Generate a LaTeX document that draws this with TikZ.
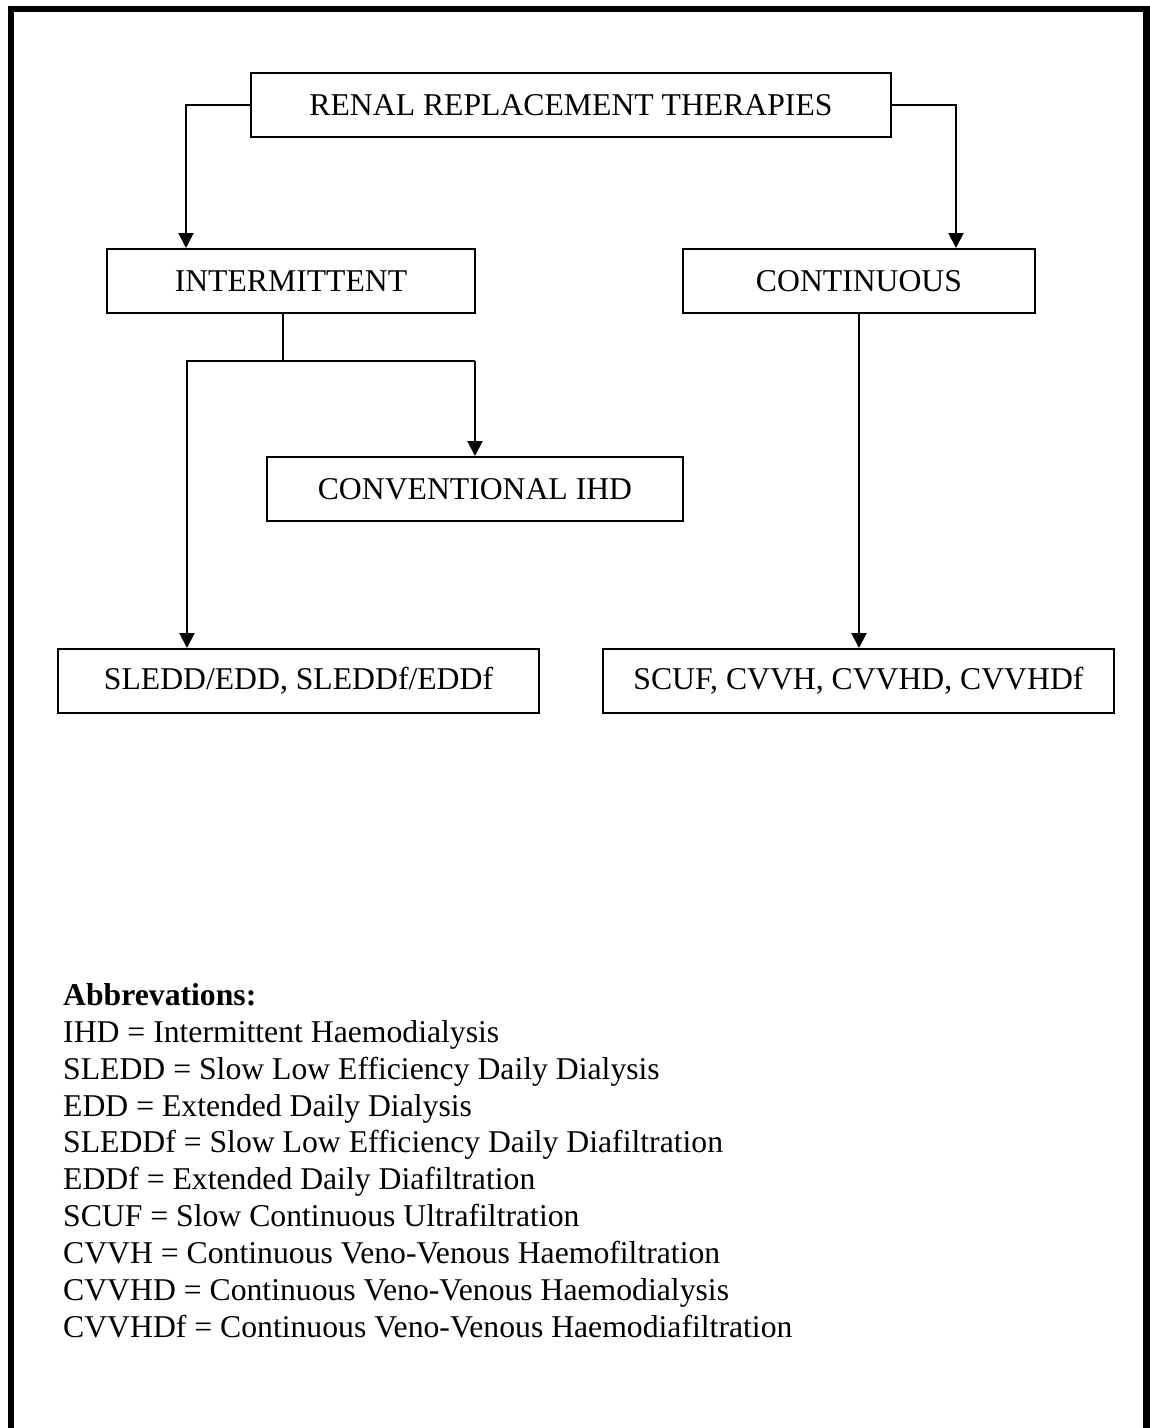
\documentclass[tikz,border=0pt]{standalone}
\usepackage{fontspec}
\setmainfont{Liberation Serif}
\usetikzlibrary{arrows.meta}
\tikzset{
  box/.style={draw, line width=2pt, minimum height=64pt, inner sep=0pt, font=\fontsize{31.7}{36.5}\selectfont},
  conn/.style={line width=2pt, line join=miter},
  arr/.style={conn, -{Triangle[length=15pt,width=15pt]}},
  abbr/.style={anchor=base west, inner sep=0pt, font=\fontsize{31.7}{36.5}\selectfont},
}
\begin{document}
\begin{tikzpicture}[x=1pt,y=-1pt]
\useasboundingbox (0,0) rectangle (1150,1428);
\fill[white] (0,0) rectangle (1150,1428);
\draw[line width=6.5pt, line join=miter] (11,1428) -- (11,9) -- (1146.5,9) -- (1146.5,1428);

\node[box, minimum width=640pt] (rrt) at (571,105) {RENAL REPLACEMENT THERAPIES};
\node[box, minimum width=368pt] (int) at (291,281) {INTERMITTENT};
\node[box, minimum width=352pt] (cont) at (859,281) {CONTINUOUS};
\node[box, minimum width=416pt] (conv) at (475,489) {CONVENTIONAL IHD};
\node[box, minimum width=481pt] (sledd) at (298.5,681) {SLEDD/EDD, SLEDDf/EDDf};
\node[box, minimum width=511pt] (scuf) at (858.5,681) {SCUF, CVVH, CVVHD, CVVHDf};

\draw[arr] (rrt.west) -| ([xshift=80pt]int.north west);
\draw[arr] (rrt.east) -| ([xshift=-80pt]cont.north east);

\coordinate (jl) at (187,361);
\coordinate (jr) at (475,361);
\coordinate (js) at (283,361);
\draw[conn] (js |- int.south) -- (js);
\draw[arr] (jr) -- (jl) -- (jl |- sledd.north);
\draw[arr] (jr) -- (jr |- conv.north);
\draw[arr] (cont.south) -- (cont.south |- scuf.north);

\node[abbr, font=\fontsize{31.7}{36.5}\selectfont\bfseries] (a0) at (63,1005.5) {Abbrevations:};
\node[abbr] (a1) at (63,1042.4) {IHD = Intermittent Haemodialysis};
\node[abbr] (a2) at (63,1079.2) {SLEDD = Slow Low Efficiency Daily Dialysis};
\node[abbr] (a3) at (63,1116.1) {EDD = Extended Daily Dialysis};
\node[abbr] (a4) at (63,1152.9) {SLEDDf = Slow Low Efficiency Daily Diafiltration};
\node[abbr] (a5) at (63,1189.8) {EDDf = Extended Daily Diafiltration};
\node[abbr] (a6) at (63,1226.7) {SCUF = Slow Continuous Ultrafiltration};
\node[abbr] (a7) at (63,1263.5) {CVVH = Continuous Veno-Venous Haemofiltration};
\node[abbr] (a8) at (63,1300.4) {CVVHD = Continuous Veno-Venous Haemodialysis};
\node[abbr] (a9) at (63,1337.2) {CVVHDf = Continuous Veno-Venous Haemodiafiltration};
\end{tikzpicture}
\end{document}
